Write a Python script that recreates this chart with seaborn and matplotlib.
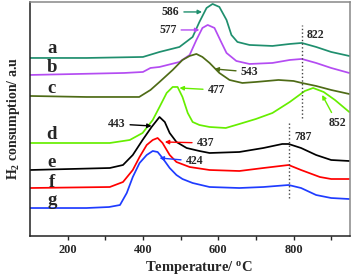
import pandas as pd
import seaborn as sns
import matplotlib
matplotlib.use("Agg")
import matplotlib.pyplot as plt

# curvas de TPR (temperatura em oC, sinal em unidades arbitrarias)
temp_a = [100, 250, 400, 444, 497, 532, 550, 569, 585, 603, 622, 635, 651, 683, 744, 790, 822, 860, 900, 948]
sig_a = [178, 178, 179, 184, 189, 199, 214, 228, 232, 229, 216, 201, 194, 191, 190, 192, 193, 189, 184, 180]

temp_b = [100, 350, 400, 420, 444, 497, 524, 542, 558, 572, 590, 609, 622, 648, 683, 744, 790, 822, 860, 900, 948]
sig_b = [161, 163, 164, 168, 169, 174, 181, 196, 208, 211, 208, 193, 183, 175, 172, 173, 176, 177, 173, 168, 163]

temp_c = [100, 250, 390, 420, 444, 479, 505, 524, 542, 558, 577, 603, 630, 664, 700, 760, 800, 822, 860, 900, 948]
sig_c = [140, 139, 139, 146, 154, 166, 176, 180, 182, 179, 173, 163, 156, 153, 154, 156, 155, 153, 150, 146, 142]

temp_d = [100, 312, 365, 399, 426, 444, 463, 479, 492, 505, 519, 532, 550, 577, 620, 656, 700, 744, 790, 830, 852, 880, 910, 948]
sig_d = [93, 93, 96, 103, 116, 129, 143, 149, 149, 139, 123, 114, 111, 109, 108, 112, 117, 123, 134, 145, 148, 144, 136, 124]

temp_e = [100, 312, 347, 373, 399, 423, 444, 458, 471, 489, 516, 550, 577, 656, 720, 770, 787, 820, 860, 900, 948]
sig_e = [66, 68, 71, 81, 96, 109, 119, 114, 103, 94, 88, 85, 83, 84, 88, 92, 92, 88, 81, 76, 75]

temp_f = [100, 312, 347, 373, 391, 410, 426, 439, 452, 471, 489, 524, 577, 656, 720, 787, 820, 870, 900, 948]
sig_f = [48, 49, 54, 66, 79, 91, 96, 98, 93, 81, 74, 69, 66, 65, 68, 71, 66, 59, 57, 57]

temp_g = [100, 250, 310, 339, 357, 373, 391, 410, 426, 439, 452, 471, 489, 505, 532, 577, 656, 720, 787, 820, 860, 900, 948]
sig_g = [28, 28, 29, 31, 43, 59, 73, 81, 85, 84, 78, 68, 61, 57, 53, 49, 48, 49, 51, 48, 41, 38, 37]

amostras = ["a", "b", "c", "d", "e", "f", "g"]
cores = ["#1f8f6e", "#b44cf2", "#4e6b16", "#66ee00", "#000000", "#ff0000", "#1f3cff"]
posicao_letra = [187, 168, 147, 101, 73, 54, 36]

partes = []
for nome, t, s in zip(amostras,
                      [temp_a, temp_b, temp_c, temp_d, temp_e, temp_f, temp_g],
                      [sig_a, sig_b, sig_c, sig_d, sig_e, sig_f, sig_g]):
    partes.append(pd.DataFrame({"amostra": nome, "T": t, "sinal": s}))
base = pd.concat(partes, ignore_index=True)

sns.set_style("ticks")
plt.rcParams["font.family"] = ["Liberation Serif", "DejaVu Serif"]
plt.rcParams["font.weight"] = "bold"
plt.rcParams["mathtext.fontset"] = "custom"
plt.rcParams["mathtext.rm"] = "Liberation Serif:bold"
plt.rcParams["mathtext.default"] = "rm"

fig = plt.figure(figsize=(3.53, 2.78), dpi=100)
ax = fig.add_axes([0.085, 0.151, 0.9065, 0.842])

sns.lineplot(data=base, x="T", y="sinal", hue="amostra", palette=cores,
             estimator=None, sort=False, legend=False, linewidth=1.25, ax=ax)
for ln in ax.get_lines():
    ln.set_solid_joinstyle("round")

# letras das amostras
for nome, y in zip(amostras, posicao_letra):
    ax.text(158, y, nome, fontsize=13.5, fontweight="bold", ha="center", va="center")

# linhas pontilhadas
ax.vlines(822, 118, 211, colors="#444444", linestyles=":", linewidth=1)
ax.vlines(787, 38, 113, colors="#444444", linestyles=":", linewidth=1)
ax.text(836, 201, "822", fontsize=8.5, fontweight="bold", ha="left", va="center")
ax.text(802, 99, "787", fontsize=8.5, fontweight="bold", ha="left", va="center")

# setas com temperaturas dos picos
setas = [
    ("586", (473, 224), (557, 224), cores[0]),
    ("577", (466, 206), (550, 206), cores[1]),
    ("543", (683, 164), (590, 167), cores[2]),
    ("477", (595, 146), (497, 148), cores[3]),
    ("852", (916, 113), (876, 141), cores[3]),
    ("443", (330, 112), (423, 110), cores[4]),
    ("437", (566, 93), (458, 94), cores[5]),
    ("424", (537, 75), (444, 78), cores[6]),
]
for txt, pos_txt, pos_seta, cor in setas:
    ax.annotate(txt, xy=pos_seta, xytext=pos_txt, fontsize=8.5, fontweight="bold",
                ha="center", va="center",
                arrowprops=dict(arrowstyle="-|>", color=cor, lw=1, mutation_scale=6,
                                shrinkA=1, shrinkB=0))

ax.set_xlim(100, 950)
ax.set_ylim(0, 234)
ax.set_xticks([200, 400, 600, 800])
ax.set_xticks([300, 500, 700, 900], minor=True)
ax.set_yticks([])
ax.tick_params(axis="x", which="both", direction="out", length=3, width=1, labelsize=8.8, pad=3)
for lab in ax.get_xticklabels():
    lab.set_fontweight("bold")
for sp in ax.spines.values():
    sp.set_visible(True)
    sp.set_linewidth(1.1)
    sp.set_color("#222222")
ax.spines["right"].set_color("#888888")
ax.spines["top"].set_color("#888888")

ax.set_xlabel("Temperature/ $^{o}$C", fontsize=10.5, fontweight="bold", labelpad=2)
ax.xaxis.label.set_x(0.528)
ax.set_ylabel("H$_2$ consumption/ a.u", fontsize=10, fontweight="bold", labelpad=6)

fig.savefig("out.png", dpi=100)
